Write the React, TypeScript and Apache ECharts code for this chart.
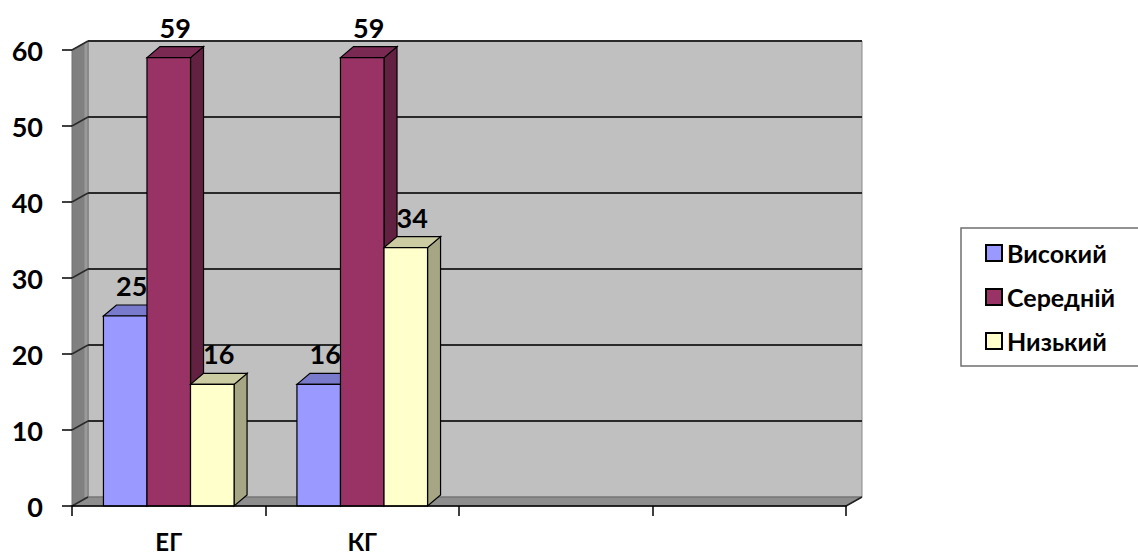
import React, { useEffect, useRef } from "react";
import * as echarts from "echarts";

// Groups on the category axis (the last two slots stay empty)
const categories = ["ЕГ", "КГ", " ", "  "];
const seriesNames = ["Високий", "Середній", "Низький"];
const highValues = [25, 16];
const midValues = [59, 59];
const lowValues = [16, 34];
const yTicks = [0, 10, 20, 30, 40, 50, 60];

const FONT = "Lato, 'Noto Sans', sans-serif";

// front / top / side shades for each level
const palettes = [
  { front: "#9999ff", top: "#7a7acc", side: "#7373bf" },
  { front: "#993366", top: "#7a2952", side: "#632142" },
  { front: "#ffffcc", top: "#cccca3", side: "#a6a685" },
];

const BAR_DX = 13;
const BAR_DY = -11;
const WALL_DX = 16;
const WALL_DY = -9;

function barSeries(idx: number, values: number[]) {
  const pal = palettes[idx];
  return {
    type: "custom",
    name: seriesNames[idx],
    itemStyle: { color: pal.front },
    clip: false,
    z: 3,
    data: values.map((v, i) => [i, v]),
    renderItem: (params: any, api: any) => {
      const cat = api.value(0);
      const val = api.value(1);
      const top = api.coord([cat, val]);
      const base = api.coord([cat, 0]);
      const band = api.size([1, 0])[0];
      const bw = band * 0.225;
      const x0 = top[0] - 1.5 * bw + idx * bw;
      const x1 = x0 + bw;
      const yT = top[1];
      const yB = base[1];
      const stroke = { stroke: "#000", lineWidth: 1.2 };
      return {
        type: "group",
        children: [
          {
            type: "polygon",
            shape: {
              points: [
                [x1, yT],
                [x1 + BAR_DX, yT + BAR_DY],
                [x1 + BAR_DX, yB + BAR_DY],
                [x1, yB],
              ],
            },
            style: { fill: pal.side, ...stroke },
          },
          {
            type: "polygon",
            shape: {
              points: [
                [x0, yT],
                [x0 + BAR_DX, yT + BAR_DY],
                [x1 + BAR_DX, yT + BAR_DY],
                [x1, yT],
              ],
            },
            style: { fill: pal.top, ...stroke },
          },
          {
            type: "rect",
            shape: { x: x0, y: yT, width: bw, height: yB - yT },
            style: { fill: pal.front, ...stroke },
          },
          {
            type: "text",
            style: {
              text: String(val),
              x: (x0 + x1) / 2 + BAR_DX / 2,
              y: yT + BAR_DY - 6,
              align: "center",
              verticalAlign: "bottom",
              fill: "#000",
              fontSize: 27,
              fontWeight: "bold",
              fontFamily: FONT,
            },
          },
        ],
      };
    },
  };
}

// Back wall, side wall, floor and gridlines of the 3D box
const wallSeries = {
  type: "custom",
  name: "wall",
  clip: false,
  silent: true,
  z: 1,
  data: [[0, 0]],
  renderItem: (params: any, api: any) => {
    const cs = params.coordSys;
    const left = cs.x;
    const right = cs.x + cs.width;
    const yMax = api.coord([0, yTicks[yTicks.length - 1]])[1];
    const y0 = api.coord([0, 0])[1];
    const children: any[] = [];
    // back wall
    children.push({
      type: "rect",
      shape: {
        x: left + WALL_DX,
        y: yMax + WALL_DY,
        width: right - left,
        height: y0 - yMax,
      },
      style: { fill: "#c0c0c0", stroke: "#8a8a8a", lineWidth: 1 },
    });
    // left side wall
    children.push({
      type: "polygon",
      shape: {
        points: [
          [left, yMax],
          [left + WALL_DX, yMax + WALL_DY],
          [left + WALL_DX, y0 + WALL_DY],
          [left, y0],
        ],
      },
      style: { fill: "#808080", stroke: "#707070", lineWidth: 1 },
    });
    // light seam between side wall and back wall
    children.push({
      type: "line",
      shape: { x1: left + WALL_DX - 2, y1: yMax + WALL_DY + 1, x2: left + WALL_DX - 2, y2: y0 + WALL_DY },
      style: { stroke: "#9a9a9a", lineWidth: 3 },
    });
    // floor
    children.push({
      type: "polygon",
      shape: {
        points: [
          [left, y0],
          [left + WALL_DX, y0 + WALL_DY],
          [right + WALL_DX, y0 + WALL_DY],
          [right, y0],
        ],
      },
      style: { fill: "#8e8e8e", stroke: "#6a6a6a", lineWidth: 1 },
    });
    children.push({
      type: "line",
      shape: { x1: right, y1: y0, x2: right + WALL_DX, y2: y0 + WALL_DY },
      style: { stroke: "#222", lineWidth: 1.5 },
    });
    // gridlines on back wall and the side wall diagonals
    yTicks.forEach((t) => {
      const y = api.coord([0, t])[1];
      if (t > 0) {
        children.push({
          type: "line",
          shape: { x1: left + WALL_DX, y1: y + WALL_DY, x2: right + WALL_DX, y2: y + WALL_DY },
          style: { stroke: "#2a2a2a", lineWidth: 2 },
        });
      }
      children.push({
        type: "line",
        shape: { x1: left, y1: y, x2: left + WALL_DX, y2: y + WALL_DY },
        style: { stroke: "#2a2a2a", lineWidth: 1.5 },
      });
    });
    return { type: "group", children };
  },
};

export default function App() {
  const ref = useRef<HTMLDivElement>(null);

  useEffect(() => {
    if (!ref.current) return;
    const chart = echarts.init(ref.current, undefined, { renderer: "svg" });
    chart.setOption({
      animation: false,
      backgroundColor: "#ffffff",
      color: palettes.map((p) => p.front),
      grid: { left: 72, right: 292, top: 50, bottom: 51 },
      legend: {
        data: seriesNames,
        orient: "vertical",
        left: 961,
        top: 228,
        padding: [12, 24, 12, 24],
        itemWidth: 16,
        itemHeight: 16,
        itemGap: 18,
        icon: "rect",
        borderColor: "#6f6f6f",
        borderWidth: 1.5,
        backgroundColor: "#ffffff",
        itemStyle: { borderColor: "#000", borderWidth: 2 },
        textStyle: {
          fontFamily: FONT,
          fontWeight: "bold",
          fontSize: 25,
          lineHeight: 26,
          color: "#000",
        },
      },
      xAxis: {
        type: "category",
        data: categories,
        z: 10,
        axisLine: { show: true, lineStyle: { color: "#000", width: 1.5 } },
        axisTick: { show: true, length: 10, lineStyle: { color: "#000", width: 1.5 } },
        axisLabel: {
          margin: 24,
          color: "#000",
          fontFamily: FONT,
          fontWeight: "bold",
          fontSize: 24,
          lineHeight: 22,
        },
        splitLine: { show: false },
      },
      yAxis: {
        type: "value",
        min: 0,
        max: 60,
        interval: 10,
        z: 10,
        axisLine: { show: false },
        axisTick: { show: true, length: 10, lineStyle: { color: "#000", width: 1.5 } },
        axisLabel: {
          margin: 29,
          color: "#000",
          fontFamily: FONT,
          fontWeight: "bold",
          fontSize: 27,
        },
        splitLine: { show: false },
      },
      series: [
        wallSeries,
        barSeries(0, highValues),
        barSeries(1, midValues),
        barSeries(2, lowValues),
      ],
    });
    return () => chart.dispose();
  }, []);

  return (
    <div style={{ position: "absolute", left: 0, top: 0 }}>
      <div ref={ref} style={{ width: 1138, height: 557 }} />
    </div>
  );
}
